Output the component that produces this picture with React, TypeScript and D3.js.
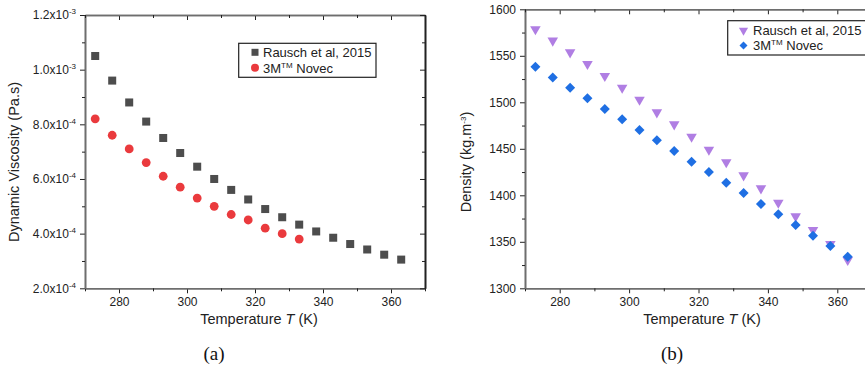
import React, { useEffect, useRef } from 'react';
import * as d3 from 'd3';

// temperatures (K)
const tempRausch = [273, 278, 283, 288, 293, 298, 303, 308, 313, 318, 323, 328, 333, 338, 343, 348, 353, 358, 363];
const tempNovec = [273, 278, 283, 288, 293, 298, 303, 308, 313, 318, 323, 328, 333];
const tempDensity = [273, 278, 283, 288, 293, 298, 303, 308, 313, 318, 323, 328, 333, 338, 343, 348, 353, 358, 363];

// (a) dynamic viscosity, Pa.s
const viscRausch = [1.05e-3, 9.6e-4, 8.8e-4, 8.1e-4, 7.5e-4, 6.95e-4, 6.45e-4, 6.0e-4, 5.6e-4, 5.25e-4, 4.9e-4, 4.6e-4, 4.33e-4, 4.08e-4, 3.85e-4, 3.62e-4, 3.42e-4, 3.23e-4, 3.05e-4];
const viscNovec = [8.2e-4, 7.6e-4, 7.1e-4, 6.6e-4, 6.1e-4, 5.7e-4, 5.3e-4, 5.0e-4, 4.7e-4, 4.5e-4, 4.2e-4, 4.0e-4, 3.8e-4];

// (b) density, kg/m3
const densRausch = [1578.5, 1566.3, 1553.7, 1541.2, 1528.3, 1515.7, 1502.8, 1489.2, 1476.3, 1463, 1449, 1435.5, 1421.5, 1407.5, 1392, 1377.4, 1362.7, 1347.6, 1330.4];
const densNovec = [1538.3, 1526.8, 1515.7, 1504.3, 1492.8, 1481.7, 1470.2, 1459.1, 1447.6, 1436.2, 1425, 1413.6, 1402.5, 1390.6, 1379.6, 1368.1, 1356.6, 1345.5, 1334];

const xTicks = [280, 300, 320, 340, 360];
const xMinor = [270, 290, 310, 330, 350, 370];
const viscTicks = [2e-4, 4e-4, 6e-4, 8e-4, 1.0e-3, 1.2e-3];
const viscMinor = [3e-4, 5e-4, 7e-4, 9e-4, 1.1e-3];
const densTicks = [1300, 1350, 1400, 1450, 1500, 1550, 1600];
const densMinor = [1325, 1375, 1425, 1475, 1525, 1575];

const legendLabels = ['Rausch et al, 2015', '3M'];

const FONT = '"Liberation Sans", Arial, sans-serif';
const AXIS_GREY = '#6e6e6e';

const App = () => {
    const svgRef = useRef();

    useEffect(() => {
        document.body.style.margin = '0';
        const svg = d3.select(svgRef.current);
        svg.selectAll('*').remove();

        const drawFrame = (g, x, y, xt, xm, yt, ym, left, right, top, bottom, yFmt) => {
            // bottom axis (outward ticks)
            g.append('g').attr('transform', `translate(0,${bottom})`)
                .call(d3.axisBottom(x).tickValues(xt).tickSize(5).tickSizeOuter(0).tickPadding(4));
            g.append('g').attr('transform', `translate(0,${bottom})`)
                .call(d3.axisBottom(x).tickValues(xm).tickSize(3).tickSizeOuter(0).tickFormat(() => ''));
            // left axis
            const l = g.append('g').attr('transform', `translate(${left},0)`)
                .call(d3.axisLeft(y).tickValues(yt).tickSize(5).tickSizeOuter(0).tickPadding(4).tickFormat(yFmt ? () => '' : d3.format('d')));
            g.append('g').attr('transform', `translate(${left},0)`)
                .call(d3.axisLeft(y).tickValues(ym).tickSize(3).tickSizeOuter(0).tickFormat(() => ''));
            // top axis, inward ticks
            g.append('g').attr('transform', `translate(0,${top})`)
                .call(d3.axisBottom(x).tickValues(xt).tickSize(5).tickSizeOuter(0).tickFormat(() => ''));
            g.append('g').attr('transform', `translate(0,${top})`)
                .call(d3.axisBottom(x).tickValues(xm).tickSize(3).tickSizeOuter(0).tickFormat(() => ''));
            // right axis, inward ticks
            g.append('g').attr('class', 'right').attr('transform', `translate(${right},0)`)
                .call(d3.axisLeft(y).tickValues(yt).tickSize(5).tickSizeOuter(0).tickFormat(() => ''));
            g.append('g').attr('class', 'right').attr('transform', `translate(${right},0)`)
                .call(d3.axisLeft(y).tickValues(ym).tickSize(3).tickSizeOuter(0).tickFormat(() => ''));

            g.selectAll('.domain').attr('stroke', AXIS_GREY).attr('stroke-width', 1.6);
            g.selectAll('.tick line').attr('stroke', '#222').attr('stroke-width', 1);
            g.selectAll('.right .domain').attr('stroke', '#222');
            g.selectAll('.tick text').attr('font-family', FONT).attr('font-size', 12).attr('fill', '#222');

            if (yFmt) {
                l.selectAll('.tick text').each(function (d) {
                    const [m, e] = d.toExponential(1).split('e');
                    const t = d3.select(this);
                    t.append('tspan').text(`${m}x10`);
                    t.append('tspan').attr('font-size', 8).attr('dy', -5).text(String(+e));
                });
            }
        };

        // ---------- (a) viscosity ----------
        const aL = 85, aR = 425, aT = 15, aB = 288.3;
        const xa = d3.scaleLinear().domain([270, 370]).range([aL, aR]);
        const ya = d3.scaleLinear().domain([2e-4, 1.2e-3]).range([aB, aT]);
        const ga = svg.append('g');
        drawFrame(ga, xa, ya, xTicks, xMinor, viscTicks, viscMinor, aL, aR, aT, aB, true);

        ga.selectAll('.sq').data(tempRausch).enter().append('rect')
            .attr('x', (d) => xa(d) - 4).attr('y', (d, i) => ya(viscRausch[i]) - 4)
            .attr('width', 8).attr('height', 8).attr('fill', '#4d4d4d');
        ga.selectAll('.ci').data(tempNovec).enter().append('circle')
            .attr('cx', (d) => xa(d)).attr('cy', (d, i) => ya(viscNovec[i]))
            .attr('r', 4.4).attr('fill', '#ea3a3d');

        // legend (a)
        ga.append('rect').attr('x', 238.7).attr('y', 43.3).attr('width', 137.3).attr('height', 34)
            .attr('fill', '#fff').attr('stroke', '#222').attr('stroke-width', 1.2);
        ga.append('rect').attr('x', 251.5).attr('y', 48.8).attr('width', 7).attr('height', 7).attr('fill', '#4d4d4d');
        ga.append('circle').attr('cx', 255).attr('cy', 67.7).attr('r', 4).attr('fill', '#ea3a3d');
        ga.append('text').attr('x', 263).attr('y', 57).attr('font-family', FONT).attr('font-size', 13).attr('fill', '#222').text(legendLabels[0]);
        const ta = ga.append('text').attr('x', 263).attr('y', 72.5).attr('font-family', FONT).attr('font-size', 13).attr('fill', '#222');
        ta.append('tspan').text(legendLabels[1]);
        ta.append('tspan').attr('font-size', 8).attr('dy', -5).text('TM');
        ta.append('tspan').attr('dy', 5).text(' Novec');

        ga.append('text').attr('transform', 'translate(19,162) rotate(-90)').attr('text-anchor', 'middle')
            .attr('font-family', FONT).attr('font-size', 14.5).attr('fill', '#222').text('Dynamic Viscosity (Pa.s)');
        const xla = ga.append('text').attr('x', 259).attr('y', 324).attr('text-anchor', 'middle')
            .attr('font-family', FONT).attr('font-size', 14.5).attr('fill', '#222');
        xla.append('tspan').text('Temperature ');
        xla.append('tspan').attr('font-style', 'italic').text('T');
        xla.append('tspan').text('  (K)');
        ga.append('text').attr('x', 214).attr('y', 360).attr('text-anchor', 'middle')
            .attr('font-family', '"Liberation Serif", serif').attr('font-size', 19).attr('fill', '#111').text('(a)');

        // ---------- (b) density ----------
        const bL = 525, bT = 9.3, bB = 288.3;
        const bR = bL + 100 * 3.47;
        const xb = d3.scaleLinear().domain([270, 370]).range([bL, bR]);
        const yb = d3.scaleLinear().domain([1300, 1600]).range([bB, bT]);
        const gb = svg.append('g');
        drawFrame(gb, xb, yb, xTicks, xMinor, densTicks, densMinor, bL, bR, bT, bB, false);

        const tri = d3.symbol().type(d3.symbolTriangle).size(48);
        gb.selectAll('.tr').data(tempDensity).enter().append('path')
            .attr('d', tri)
            .attr('transform', (d, i) => `translate(${xb(d)},${yb(densRausch[i])}) rotate(180)`)
            .attr('fill', '#b07ee3');
        // diamond = square turned 45 degrees
        const dia = d3.symbol().type(d3.symbolSquare).size(50);
        gb.selectAll('.di').data(tempDensity).enter().append('path')
            .attr('d', dia)
            .attr('transform', (d, i) => `translate(${xb(d)},${yb(densNovec[i])}) rotate(45)`)
            .attr('fill', '#1f6fe3');

        // legend (b)
        gb.append('rect').attr('x', 727.7).attr('y', 20.7).attr('width', 150).attr('height', 34.3)
            .attr('fill', '#fff').attr('stroke', '#222').attr('stroke-width', 1.2);
        gb.append('path').attr('d', d3.symbol().type(d3.symbolTriangle).size(36))
            .attr('transform', 'translate(743.5,30.5) rotate(180)').attr('fill', '#b07ee3');
        gb.append('path').attr('d', d3.symbol().type(d3.symbolSquare).size(32))
            .attr('transform', 'translate(743.5,45.5) rotate(45)').attr('fill', '#1f6fe3');
        gb.append('text').attr('x', 753).attr('y', 35).attr('font-family', FONT).attr('font-size', 13).attr('fill', '#222').text(legendLabels[0]);
        const tb = gb.append('text').attr('x', 753).attr('y', 50).attr('font-family', FONT).attr('font-size', 13).attr('fill', '#222');
        tb.append('tspan').text(legendLabels[1]);
        tb.append('tspan').attr('font-size', 8).attr('dy', -5).text('TM');
        tb.append('tspan').attr('dy', 5).text(' Novec');

        gb.append('text').attr('transform', 'translate(471,162) rotate(-90)').attr('text-anchor', 'middle')
            .attr('font-family', FONT).attr('font-size', 14.5).attr('fill', '#222')
            .call((t) => {
                t.append('tspan').text('Density (kg.m');
                t.append('tspan').attr('font-size', 8).attr('dy', -5).text('-3');
                t.append('tspan').attr('dy', 5).text(')');
            });
        const xlb = gb.append('text').attr('x', 702).attr('y', 324).attr('text-anchor', 'middle')
            .attr('font-family', FONT).attr('font-size', 14.5).attr('fill', '#222');
        xlb.append('tspan').text('Temperature ');
        xlb.append('tspan').attr('font-style', 'italic').text('T');
        xlb.append('tspan').text('  (K)');
        gb.append('text').attr('x', 672).attr('y', 360).attr('text-anchor', 'middle')
            .attr('font-family', '"Liberation Serif", serif').attr('font-size', 19).attr('fill', '#111').text('(b)');
    }, []);

    return (
        <div style={{ width: 865, height: 372, overflow: 'hidden' }}>
            <svg ref={svgRef} width={865} height={372} style={{ display: 'block', background: '#fff' }}></svg>
        </div>
    );
};

export default App;
